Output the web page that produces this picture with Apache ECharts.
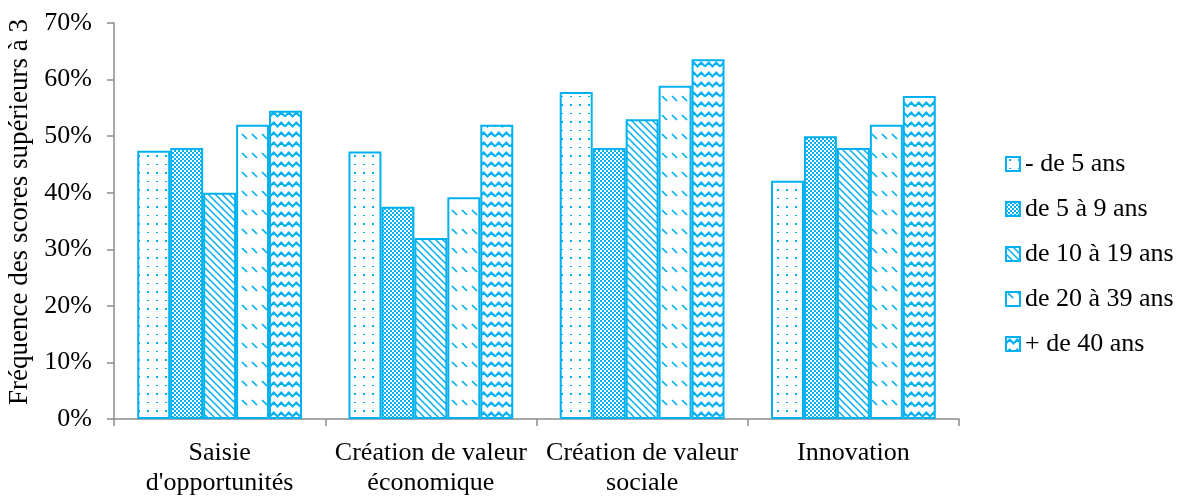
<!DOCTYPE html>
<html>
<head>
<meta charset="utf-8">
<script src="https://cdn.jsdelivr.net/npm/echarts@6/dist/echarts.min.js"></script>
<style>html,body{margin:0;padding:0;background:#fff}#c{width:1184px;height:496px}</style>
</head>
<body>
<div id="c"></div>
<script>
const categories = ["Saisie\nd'opportunités", "Création de valeur\néconomique", "Création de valeur\nsociale", "Innovation"];
const seriesNames = ["- de 5 ans", "de 5 à 9 ans", "de 10 à 19 ans", "de 20 à 39 ans", "+ de 40 ans"];
const moins5 = [0.474, 0.473, 0.578, 0.421];
const de5a9 = [0.479, 0.375, 0.479, 0.500];
const de10a19 = [0.400, 0.320, 0.530, 0.479];
const de20a39 = [0.520, 0.392, 0.589, 0.520];
const plus40 = [0.545, 0.520, 0.636, 0.571];
const yTicks = [0, 0.1, 0.2, 0.3, 0.4, 0.5, 0.6, 0.7];

const BLUE = '#00B0F0';
function tile(w, h, draw) {
  const c = document.createElement('canvas');
  c.width = w; c.height = h;
  const g = c.getContext('2d');
  g.fillStyle = '#fff'; g.fillRect(0, 0, w, h);
  g.fillStyle = BLUE; g.strokeStyle = BLUE;
  draw(g);
  return { image: c, repeat: 'repeat' };
}
const patterns = [
  tile(9, 17, g => { g.fillRect(3, 2, 2, 2); g.fillRect(3, 11, 2, 1); }),
  tile(4, 4, g => { g.fillRect(0, 0, 2, 2); g.fillRect(2, 2, 2, 2); }),
  tile(7, 7, g => { g.lineWidth = 1.5; g.beginPath(); g.moveTo(-1, -1); g.lineTo(8, 8); g.moveTo(-8, -1); g.lineTo(1, 8); g.moveTo(6, -1); g.lineTo(15, 8); g.stroke(); }),
  tile(10, 19, g => { g.lineWidth = 1.7; g.beginPath(); g.moveTo(2, 1); g.lineTo(7, 6); g.stroke(); }),
  tile(15, 10, g => { g.lineWidth = 2; g.beginPath(); g.moveTo(0, 6.5); g.lineTo(3.75, 2.5); g.lineTo(7.5, 6.5); g.lineTo(11.25, 2.5); g.lineTo(15, 6.5); g.stroke(); })
];
const allData = [moins5, de5a9, de10a19, de20a39, plus40];

const font = '"Liberation Serif", "Times New Roman", serif';
const FS = 26;
const chart = echarts.init(document.getElementById('c'), null, { renderer: 'canvas' });
chart.setOption({
  animation: false,
  grid: { left: 114, right: 225, top: 23, bottom: 77, containLabel: false, outerBoundsMode: 'none' },
  legend: {
    orient: 'vertical', left: 1000, top: 146, icon: 'rect',
    itemWidth: 14, itemHeight: 14, itemGap: 19,
    textStyle: { fontFamily: font, fontSize: FS, color: '#000' },
    data: seriesNames
  },
  xAxis: {
    type: 'category', data: categories,
    axisLine: { lineStyle: { color: '#8c8c8c', width: 1.5 } },
    axisTick: { show: true, length: 7, lineStyle: { color: '#8c8c8c', width: 1.5 } },
    axisLabel: { fontFamily: font, fontSize: FS, color: '#000', lineHeight: 30, margin: 19, interval: 0 }
  },
  yAxis: {
    type: 'value', min: 0, max: 0.7, interval: 0.1,
    name: 'Fréquence des scores supérieurs à 3', nameLocation: 'middle', nameGap: 78, nameRotate: 90,
    nameTextStyle: { fontFamily: font, fontSize: 27, color: '#000', padding: [0, 0, 0, 18] },
    axisLine: { show: true, lineStyle: { color: '#8c8c8c', width: 1.5 } },
    axisTick: { show: true, length: 7, lineStyle: { color: '#8c8c8c', width: 1.5 } },
    splitLine: { show: false },
    axisLabel: { fontFamily: font, fontSize: FS, color: '#000', margin: 22,
      formatter: v => { const t = yTicks.find(x => Math.abs(x - v) < 1e-6); return Math.round((t ?? v) * 100) + '%'; } }
  },
  series: seriesNames.map((n, i) => ({
    name: n, type: 'bar', data: allData[i],
    barGap: '0%', barCategoryGap: '22%',
    itemStyle: { color: patterns[i], borderColor: BLUE, borderWidth: 2 }
  }))
});
</script>
</body>
</html>
